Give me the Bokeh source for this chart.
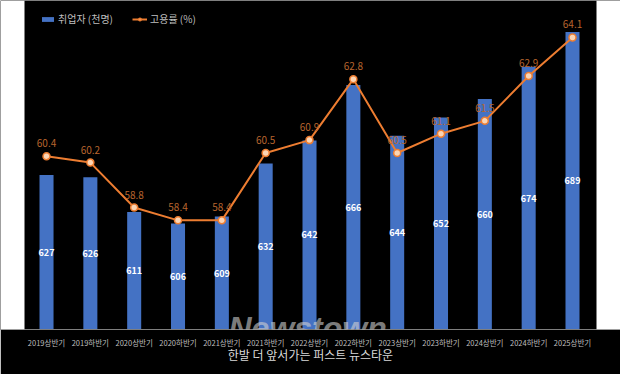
from bokeh.plotting import figure
from bokeh.models import (Range1d, FixedTicker, ColumnDataSource, Legend, LegendItem,
                          BoxAnnotation, Label)
from bokeh.core.properties import value
from bokeh.embed import file_html
from bokeh.resources import INLINE

FONT = "Noto Sans CJK KR"

categories = ["2019상반기", "2019하반기", "2020상반기", "2020하반기", "2021상반기",
              "2021하반기", "2022상반기", "2022하반기", "2023상반기", "2023하반기",
              "2024상반기", "2024하반기", "2025상반기"]
employed = [627, 626, 611, 606, 609, 632, 642, 666, 644, 652, 660, 674, 689]
rate = [60.4, 60.2, 58.8, 58.4, 58.4, 60.5, 60.9, 62.8, 60.5, 61.1, 61.5, 62.9, 64.1]

BASE = 560
xs = list(range(len(categories)))
src = ColumnDataSource(dict(
    x=xs, employed=employed, rate=rate,
    emp_mid=[(v + BASE) / 2 for v in employed],
    emp_lbl=[str(v) for v in employed],
    rate_lbl=[f"{v:.1f}" for v in rate],
))

p = figure(width=620, height=374, output_backend="svg", toolbar_location=None,
           x_range=Range1d(-1.05, 13.095), y_range=Range1d(BASE, 702.7),
           y_axis_location=None,
           min_border_left=0, min_border_right=0, min_border_top=0, min_border_bottom=45,
           background_fill_color="black", border_fill_color="black",
           outline_line_color=None)
p.extra_y_ranges = {"rate": Range1d(55, 65.25)}
p.grid.visible = False

bars = p.vbar(x="x", top="employed", bottom=BASE, width=0.32, fill_color="#4472C4",
              line_color=None, source=src)
p.text(x="x", y="emp_mid", text="emp_lbl", source=src, text_align="center",
       text_baseline="middle", text_font=value(FONT), text_font_size="9px",
       text_font_style="bold", text_color="white")

ln = p.line(x="x", y="rate", y_range_name="rate", line_color="#ED7D31", line_width=2,
            source=src)
pts = p.scatter(x="x", y="rate", y_range_name="rate", size=7, fill_color="#FBD5B5",
                line_color="#ED7D31", line_width=1.5, source=src)
p.text(x="x", y="rate", text="rate_lbl", y_range_name="rate", source=src, y_offset=-13,
       text_align="center", text_baseline="middle", text_font=value(FONT),
       text_font_size="10px", text_color="#B8652E")

ax = p.xaxis[0]
ax.ticker = FixedTicker(ticks=xs)
ax.major_label_overrides = {i: c for i, c in enumerate(categories)}
ax.axis_line_color = "#7f7f7f"
ax.major_tick_line_color = None
ax.minor_tick_line_color = None
ax.major_tick_out = 0
ax.major_label_standoff = 7
ax.major_label_text_font = FONT
ax.major_label_text_font_size = "7.5px"
ax.major_label_text_color = "#bfbfbf"
ax.axis_label = "한발 더 앞서가는 퍼스트 뉴스타운"
ax.axis_label_text_font = FONT
ax.axis_label_text_font_style = "normal"
ax.axis_label_text_font_size = "12px"
ax.axis_label_text_color = "#d9d9d9"
ax.axis_label_standoff = -5

legend = Legend(items=[LegendItem(label="취업자 (천명)", renderers=[bars]),
                       LegendItem(label="고용률 (%)", renderers=[ln, pts])],
                orientation="horizontal", location=(40, 303),
                background_fill_alpha=0, border_line_color=None,
                label_text_color="#bfbfbf", label_text_font=FONT,
                label_text_font_size="10px", glyph_width=15, glyph_height=6,
                label_standoff=3, spacing=19, padding=0, margin=0, label_height=10)
p.add_layout(legend)

p.add_layout(BoxAnnotation(right=24, right_units="screen", fill_color="white",
                           fill_alpha=1, line_color=None))
p.add_layout(BoxAnnotation(left=596, left_units="screen", fill_color="white",
                           fill_alpha=1, line_color=None))

# watermark (clipped to the plot frame)
p.add_layout(Label(x=228, y=2, x_units="screen", y_units="screen", text="Newstown",
                   text_font="Liberation Sans", text_font_style="bold italic",
                   text_font_size="32px", text_color="#d0d0d0", text_alpha=0.6,
                   text_baseline="middle"))

open("out.html", "w").write(file_html(p, INLINE))
